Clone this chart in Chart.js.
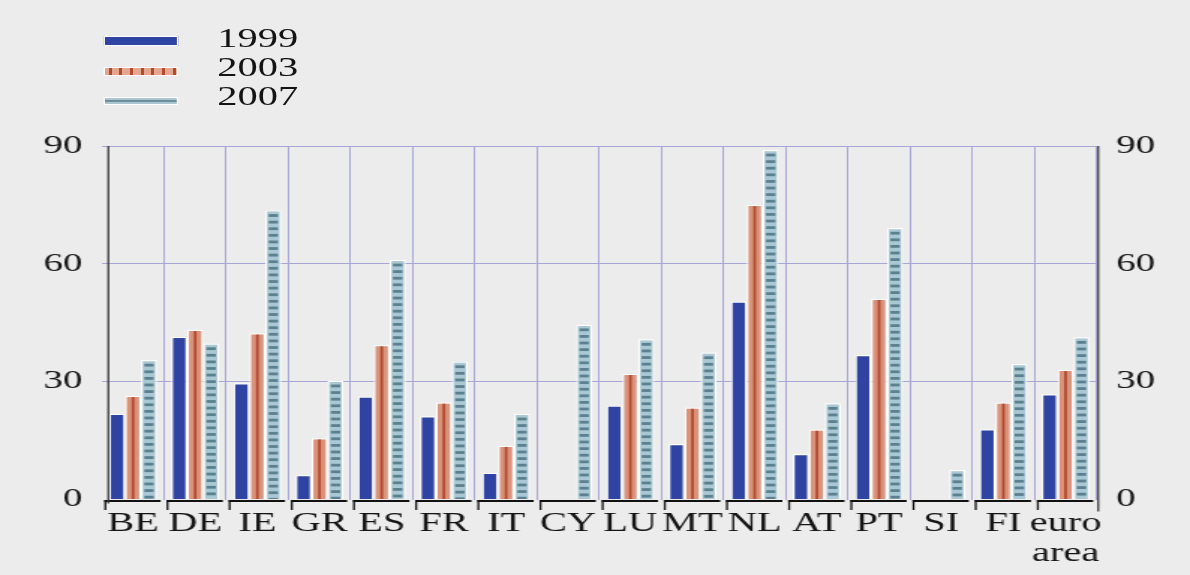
<!DOCTYPE html>
<html>
<head>
<meta charset="utf-8">
<script src="https://cdn.jsdelivr.net/npm/chart.js@4.4.1/dist/chart.umd.min.js"></script>
<style>
  html, body { margin: 0; padding: 0; background: #ececec; overflow: hidden; }
  #wrap { position: absolute; left: 0; top: 0; width: 794px; height: 575px;
          transform: scaleX(1.49874); transform-origin: 0 0; }
  #c { position: absolute; left: 0; top: 0; }
  .lg { position: absolute; left: 69px; width: 50px; box-sizing: border-box; border: 1px solid #ffffff; }
  .lt { position: absolute; left: 145px; font-family: "Liberation Serif", "Times New Roman", serif;
        font-size: 27px; line-height: 27px; color: #141414; }
</style>
</head>
<body>
<div id="wrap">
  <canvas id="c" width="794" height="575"></canvas>
  <div class="lg" style="top:36px;height:10px;background:#2f43a3;"></div>
  <div class="lg" style="top:67px;height:9px;background:repeating-linear-gradient(90deg,#e3a68e 0px,#e3a68e 2.6px,#b4472c 2.6px,#b4472c 4.6px,#e3a68e 4.6px,#e3a68e 7.1px);"></div>
  <div class="lg" style="top:97px;height:8px;background:linear-gradient(180deg,#abc6d1 0px,#abc6d1 2px,#6f8e9b 2px,#6f8e9b 4px,#abc6d1 4px);"></div>
  <div class="lt" style="top:25px;">1999</div>
  <div class="lt" style="top:54px;">2003</div>
  <div class="lt" style="top:83px;">2007</div>
</div>
<script>
// ---- data ----
const categories = ['BE','DE','IE','GR','ES','FR','IT','CY','LU','MT','NL','AT','PT','SI','FI',['euro','area']];
const seriesNames = ['1999','2003','2007'];
const s1999 = [21.8, 41.4, 29.6, 6.2, 26.2, 21.2, 6.8, null, 23.9, 14.1, 50.4, 11.6, 36.8, null, 17.9, 26.8];
const s2003 = [26.4, 43.2, 42.3, 15.6, 39.3, 24.7, 13.7, null, 32.0, 23.4, 75.0, 17.8, 51.1, null, 24.7, 33.0];
const s2007 = [35.5, 39.7, 73.6, 30.2, 61.0, 35.1, 21.8, 44.5, 40.8, 37.4, 89.0, 24.5, 69.1, 7.5, 34.5, 41.3];
const yTicks = [0, 30, 60, 90];

// ---- styles ----
const BLUE = '#2f43a3', SALMON = '#da937b', RED = '#b24a2f', LBLUE = '#a9c8d3', DBLUE = '#5b808f';
const GRID = '#a7a6d6', AXIS = '#3a3a3a', TXT = '#141414';
const BW = 1.2;
const SERIF = '"Liberation Serif", "Times New Roman", serif';

const decor = {
  id: 'decor',
  afterDatasetDraw(chart, args) {
    const ctx = chart.ctx;
    const meta = args.meta;
    if (args.index === 1) {
      ctx.save();
      ctx.fillStyle = RED;
      meta.data.forEach(el => {
        const p = el.getProps(['x', 'y', 'base', 'width'], true);
        if (p.y == null || isNaN(p.y) || p.base - p.y < 2) return;
        ctx.fillRect(p.x - 0.9, p.y + BW, 1.8, p.base - p.y - BW);
      });
      ctx.restore();
    }
    if (args.index === 2) {
      meta.data.forEach(el => {
        const p = el.getProps(['x', 'y', 'base', 'width'], true);
        if (p.y == null || isNaN(p.y) || p.base - p.y < 2) return;
        const l = p.x - p.width / 2 + BW, w = p.width - 2 * BW;
        ctx.save();
        ctx.beginPath();
        ctx.rect(l, p.y + BW, w, p.base - p.y - BW);
        ctx.clip();
        ctx.fillStyle = DBLUE;
        for (let yy = p.y + BW + 2.5; yy < p.base; yy += 6.6) {
          ctx.fillRect(l + 1, yy, w - 2, 2.8);
        }
        ctx.restore();
      });
    }
  },
  afterDraw(chart) {
    const ctx = chart.ctx;
    const ca = chart.chartArea;
    const xs = chart.scales.x;
    const n = categories.length;
    const cw = (xs.right - xs.left) / n;
    ctx.save();
    ctx.fillStyle = '#111111';
    for (let i = 0; i < n; i++) {
      const cx = xs.getPixelForValue(i);
      const l = cx - cw / 2 + 1.6, r = cx + cw / 2 - 2.3;
      ctx.fillRect(l, ca.bottom + 0.5, r - l, 2);
      ctx.fillRect(l, ca.bottom + 0.5, 1.3, 10);
    }
    ctx.fillStyle = AXIS;
    ctx.fillRect(ca.left + 3.6, ca.top, 1.3, ca.bottom - ca.top + 4);
    ctx.fillRect(ca.right + 0.4, ca.top, 1.3, ca.bottom - ca.top + 12);
    ctx.restore();
  }
};

const yTickOpts = (pad) => ({
  padding: pad,
  color: TXT,
  font: { family: SERIF, size: 26 },
  callback: (v) => yTicks.includes(v) ? String(v) : ''
});

new Chart(document.getElementById('c'), {
  type: 'bar',
  data: {
    labels: categories,
    datasets: [
      { label: seriesNames[0], data: s1999, backgroundColor: BLUE, borderColor: '#ffffff', borderWidth: BW, yAxisID: 'y' },
      { label: seriesNames[1], data: s2003, backgroundColor: SALMON, borderColor: '#ffffff', borderWidth: BW, yAxisID: 'y' },
      { label: seriesNames[2], data: s2007, backgroundColor: LBLUE, borderColor: '#ffffff', borderWidth: BW, yAxisID: 'y' }
    ]
  },
  options: {
    responsive: false,
    animation: false,
    devicePixelRatio: 1,
    categoryPercentage: 0.77,
    barPercentage: 1.0,
    layout: { padding: { top: 146, left: 0, right: 0, bottom: 0 } },
    plugins: { legend: { display: false }, tooltip: { enabled: false } },
    scales: {
      x: {
        border: { display: false },
        grid: {
          offset: true,
          drawTicks: false,
          lineWidth: 1,
          color: (c) => (c.index === 0 || c.index === categories.length) ? 'rgba(0,0,0,0)' : GRID
        },
        ticks: {
          padding: 9,
          color: TXT,
          maxRotation: 0,
          autoSkip: false,
          font: { family: SERIF, size: 27, lineHeight: 1.12 }
        },
        afterFit: (s) => { s.height = 75.5; }
      },
      y: {
        position: 'left',
        min: 0, max: 90,
        afterBuildTicks: (s) => { s.ticks = yTicks.map(v => ({ value: v })); },
        border: { display: false },
        grid: { drawTicks: false, lineWidth: 1, color: (c) => c.tick && c.tick.value === 0 ? 'rgba(0,0,0,0)' : GRID },
        ticks: yTickOpts(13),
        afterFit: (s) => { s.width = 68; }
      },
      y2: {
        position: 'right',
        min: 0, max: 90,
        afterBuildTicks: (s) => { s.ticks = yTicks.map(v => ({ value: v })); },
        border: { display: false },
        grid: { display: false, drawTicks: false },
        ticks: yTickOpts(13),
        afterFit: (s) => { s.width = 62.3; }
      }
    }
  },
  plugins: [decor]
});
</script>
</body>
</html>
